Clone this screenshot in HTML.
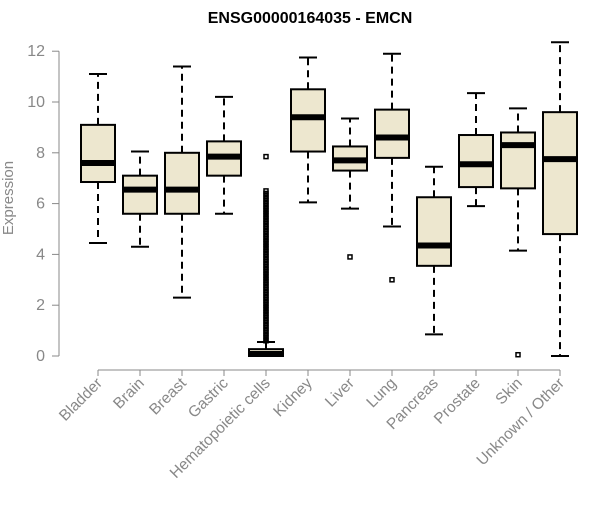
<!DOCTYPE html>
<html><head><meta charset="utf-8"><style>
body{margin:0;background:#fff;}
svg{font-family:"Liberation Sans",Arial,sans-serif;}
</style></head><body>
<svg id="chart" width="600" height="500">
<text x="310" y="23" text-anchor="middle" font-weight="bold" font-size="16">ENSG00000164035 - EMCN</text>
<text transform="translate(13,198) rotate(-90)" text-anchor="middle" font-size="15" fill="#888">Expression</text>
<g id="axes"></g><g id="boxes"></g>
</svg>
<script>
const categories=["Bladder","Brain","Breast","Gastric","Hematopoietic cells","Kidney","Liver","Lung","Pancreas","Prostate","Skin","Unknown / Other"];
const lows=[4.45,4.3,2.3,5.6,0,6.05,5.8,5.1,0.85,5.9,4.15,0];
const q1s=[6.85,5.6,5.6,7.1,0,8.05,7.3,7.8,3.55,6.65,6.6,4.8];
const medians=[7.6,6.55,6.55,7.85,0.08,9.4,7.7,8.6,4.35,7.55,8.3,7.75];
const q3s=[9.1,7.1,8.0,8.45,0.27,10.5,8.25,9.7,6.25,8.7,8.8,9.6];
const highs=[11.1,8.05,11.4,10.2,0.55,11.75,9.35,11.9,7.45,10.35,9.75,12.35];
const outliers=[[],[],[],[],[0.6,0.7,0.8,0.9,1.0,1.1,1.2,1.3,1.4,1.5,1.6,1.7,1.8,1.9,2.0,2.1,2.2,2.3,2.4,2.5,2.6,2.7,2.8,2.9,3.0,3.1,3.2,3.3,3.4,3.5,3.6,3.7,3.8,3.9,4.0,4.1,4.2,4.3,4.4,4.5,4.6,4.7,4.8,4.9,5.0,5.1,5.2,5.3,5.4,5.5,5.6,5.7,5.8,5.9,6.0,6.1,6.2,6.3,6.4,6.5,7.85],[],[3.9],[3.0],[],[],[0.05],[]];
const yTicks=[0,2,4,6,8,10,12];
const NS="http://www.w3.org/2000/svg";
const y=v=>356-v*25.4;
const x=i=>98+i*42;
function mk(p,t,a){const e=document.createElementNS(NS,t);for(const k in a)e.setAttribute(k,a[k]);p.appendChild(e);return e;}
const ax=document.getElementById('axes'),bx=document.getElementById('boxes');
const yl=mk(ax,'line',{x1:59,x2:59,y1:y(0),y2:y(12),stroke:'#888'});


yTicks.forEach(t=>{
 const l=mk(ax,'line',{x1:52,x2:59,y1:y(t),y2:y(t),stroke:'#888'});
 
 
 const tx=mk(ax,'text',{x:45,y:y(t)+5,'text-anchor':'end','font-size':16,fill:'#888'});
 tx.textContent=t;
 
 
});
const xl=mk(ax,'line',{x1:x(0),x2:x(categories.length-1),y1:370,y2:370,stroke:'#888'});


categories.forEach((c,i)=>{
 const cx=x(i);
 const tk=mk(ax,'line',{x1:cx,x2:cx,y1:370,y2:376,stroke:'#888'});
 
 
 const tx=mk(ax,'text',{x:cx+5,y:384,'text-anchor':'end','font-size':15.5,fill:'#888',transform:`rotate(-45 ${cx+5} 384)`});
 tx.textContent=c;
 
 
 const g=mk(bx,'g',{});
 
 
 mk(g,'line',{x1:cx,x2:cx,y1:y(q3s[i]),y2:y(highs[i]),stroke:'#000','stroke-width':2,'stroke-dasharray':'7,5'});
 mk(g,'line',{x1:cx,x2:cx,y1:y(q1s[i]),y2:y(lows[i]),stroke:'#000','stroke-width':2,'stroke-dasharray':'7,5'});
 mk(g,'line',{x1:cx-9,x2:cx+9,y1:y(highs[i]),y2:y(highs[i]),stroke:'#000','stroke-width':2});
 mk(g,'line',{x1:cx-9,x2:cx+9,y1:y(lows[i]),y2:y(lows[i]),stroke:'#000','stroke-width':2});
 mk(g,'rect',{x:cx-17,y:y(q3s[i]),width:34,height:Math.max(y(q1s[i])-y(q3s[i]),3),fill:'#ede7cf',stroke:'#000','stroke-width':2});
 mk(g,'line',{x1:cx-17,x2:cx+17,y1:y(medians[i]),y2:y(medians[i]),stroke:'#000','stroke-width':6});
 outliers[i].forEach(v=>{
  const o=mk(g,'rect',{x:cx-2,y:y(v)-2,width:4,height:4,fill:'none',stroke:'#000','stroke-width':1.5});
  
  
 });
});
</script>
</body></html>
